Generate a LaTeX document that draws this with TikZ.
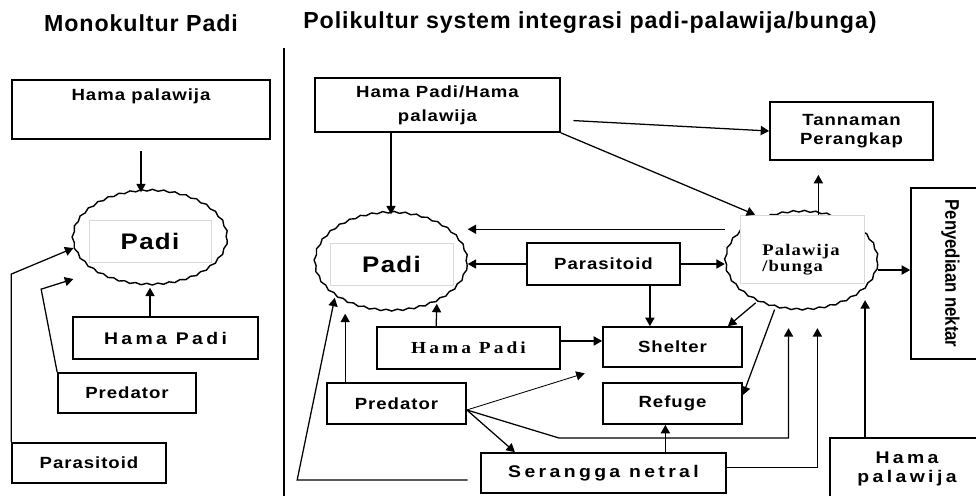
\documentclass[tikz,border=0pt]{standalone}
\usepackage{fontspec}
\setmainfont{Liberation Sans}
\newfontfamily\titlefont[LetterSpace=4]{Liberation Sans}
\newfontfamily\boxfont[FakeStretch=1.15,LetterSpace=6]{Liberation Sans}
\newfontfamily\widefont[FakeStretch=1.15,LetterSpace=20]{Liberation Sans}
\newfontfamily\palfont[FakeStretch=1.15,LetterSpace=7]{Liberation Serif}
\newfontfamily\hpfont[FakeStretch=1.15,LetterSpace=18]{Liberation Serif}
\newfontfamily\narrowfont[FakeStretch=0.85]{Liberation Sans}
\usetikzlibrary{arrows.meta,shapes.geometric,decorations.pathmorphing,calc}
\newcommand{\pxu}{0.025cm}

\begin{document}
\begin{tikzpicture}[x=0.025cm,y=-0.025cm,->,>={Triangle[length=6pt,width=6.5pt]},line width=0.9pt,
    main node/.style={rectangle,draw,line width=1.2pt,inner sep=0pt,align=center,font=\boxfont\bfseries\fontsize{11.5}{13.5}\selectfont},
    wide node/.style={main node,font=\widefont\bfseries\fontsize{12}{13}\selectfont},
    crop node/.style={-,ellipse,draw,line width=1pt,inner sep=0pt,decorate,decoration={snake,amplitude=0.6pt,segment length=8pt}},
    inner box/.style={rectangle,draw=gray!30,line width=0.4pt,inner sep=0pt},
    heading/.style={font=\titlefont\bfseries\fontsize{16.5}{20}\selectfont},
    dims/.style 2 args={minimum width={#1*\pxu},minimum height={#2*\pxu}}]

    \useasboundingbox (0,0) rectangle (976,495);

    % Nodes
    \node[heading] (mono) at (141,23) {Monokultur Padi};
    \node[heading,anchor=west] (poli) at (298,23) {Polikultur system integrasi padi-palawija/bunga)};

    % monokultur
    \node[main node,dims={258}{59}] (hplL) at (141,109.5) {Hama palawija\\[3pt]\strut};
    \node[crop node,dims={154}{94}] (padiL) at (150,240) {};
    \node[inner box,dims={122}{42},font=\boxfont\bfseries\fontsize{16}{18}\selectfont] (padiLlbl) at (150,241) {Padi};
    \node[wide node,dims={185}{42}] (hpL) at (165.5,338) {Hama Padi};
    \node[main node,dims={138}{40}] (predL) at (127,393) {Predator};
    \node[main node,dims={154}{40}] (parL) at (89,463) {Parasitoid};

    % polikultur
    \node[main node,dims={245}{54}] (hpp) at (437.5,105) {Hama Padi/Hama\\[3.5pt]palawija};
    \node[main node,dims={163}{58}] (trap) at (851.5,131) {Tannaman\\Perangkap};
    \node[crop node,dims={152}{98}] (padiR) at (391,264) {};
    \node[inner box,dims={123}{42},font=\boxfont\bfseries\fontsize{16}{18}\selectfont] (padiRlbl) at (391.5,264) {Padi};
    \node[main node,dims={153}{42}] (par) at (603.5,264) {Parasitoid};
    \node[crop node,dims={152}{98}] (pal) at (801.5,263) {};
    \node[inner box,fill=white,dims={124}{68}] (palbox) at (802.5,249) {};
    \node[font=\palfont\bfseries\fontsize{11.5}{11.3}\selectfont,align=left] (pallbl) at (801,260) {Palawija\\/bunga};
    \node[main node,rotate=-90,dims={171}{79},font=\narrowfont\bfseries\fontsize{14}{16}\selectfont] (nek) at (950.5,273.5) {Penyediaan nektar};
    \node[main node,dims={139}{40}] (shel) at (672.5,347) {Shelter};
    \node[main node,dims={139}{41}] (ref) at (672.5,403.5) {Refuge};
    \node[main node,dims={183}{42},font=\hpfont\bfseries\fontsize{12}{14}\selectfont] (hpR) at (468.5,348) {Hama Padi};
    \node[main node,dims={139}{41}] (predR) at (396.5,403.5) {Predator};
    \node[wide node,dims={245}{40}] (ser) at (603.5,473) {Serangga netral};
    \node[wide node,dims={154}{62}] (hpal) at (907,469) {Hama\\palawija};
    \coordinate (predout) at ([yshift=-4.6pt]predR.east);

    % Divider
    \draw[-,line width=1.2pt] (284,48) -- (284,500);

    % Paths
    \path
      (hplL.south) edge[shorten <=8pt] (hplL.south |- padiL.north)
      (padiL.south |- hpL.north) edge (padiL.south)
      (padiR.north |- hpp.south) edge (padiR.north)
      ([yshift=-10.6pt]hpp.east) edge[shorten <=9pt] (trap.west)
      (hpp.south east) edge ([xshift=10.6pt]palbox.north west)
      ([yshift=24pt]pal.west) edge ([yshift=24pt]pal.west -| padiR.east)
      (par.west) edge (par.west -| padiR.east)
      (par.east) edge (par.east -| pal.west)
      ([xshift=33pt]par.south) edge ([xshift=33pt]par.south |- shel.north)
      ([xshift=-23pt]hpR.north) edge (padiR.-41)
      ([yshift=5pt]hpR.east) edge ([yshift=5pt]hpR.east -| shel.west)
      ([xshift=-36.5pt]predR.north) edge ([xshift=-36.5pt]predR.north |- padiR.south)
      (predout) edge[line width=0.6pt,shorten >=13pt] (shel.south west)
      (predout) edge ([xshift=-63pt]ser.north)
      ([xshift=44pt]ser.north) edge ([xshift=44pt]ser.north |- ref.south)
      ([xshift=11.3pt]palbox.north) edge[shorten >=10pt] ([xshift=11.3pt]palbox.north |- trap.south)
      ([yshift=-5pt]pal.east) edge ([yshift=-5pt]pal.east -| nek.south)
      (pal.221) edge ([xshift=-10.6pt]shel.north east)
      (pal.240) edge ([yshift=6pt]ref.east);

    \draw (predL.north west) -- ++(-16,-83) -- (padiL.210) [shorten >=15pt];
    \draw (parL.north west) -- ++(0,-168) -- (padiL.186);
    \draw (predout) -- ++(92,28) -| ([xshift=-9.2pt,yshift=-11pt]pal.south);
    \draw ([yshift=4pt]ser.east) -| ([xshift=11.3pt,yshift=-11pt]pal.south);
    \draw[shorten <=9pt] ([yshift=-5pt]ser.west) -- ++(-183,0) -- (padiR.211);
    \draw ([xshift=-29.8pt]hpal.north) -- ++(0,-137);

  \end{tikzpicture}
\end{document}
